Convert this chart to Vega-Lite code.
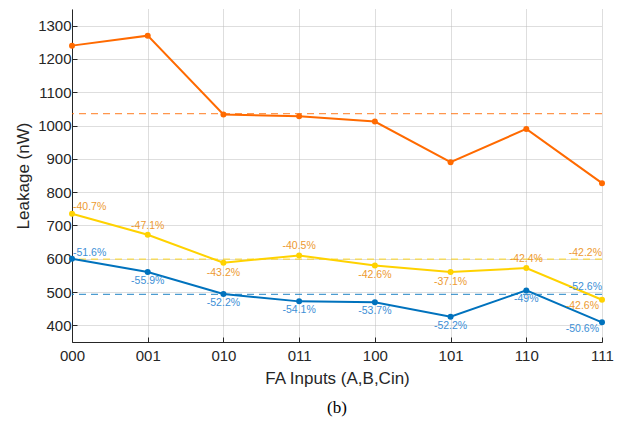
{
  "$schema": "https://vega.github.io/schema/vega-lite/v6.json",
  "width": 530,
  "height": 333,
  "autosize": {"type": "none"},
  "padding": {"left": 72, "top": 9, "right": 18, "bottom": 79},
  "background": "white",
  "config": {
    "view": {"stroke": null},
    "font": "Liberation Sans",
    "axis": {
      "domainColor": "#262626",
      "tickColor": "#262626",
      "labelColor": "#262626",
      "titleColor": "#262626",
      "labelFont": "Liberation Sans",
      "titleFont": "Liberation Sans",
      "labelFontSize": 15,
      "titleFontSize": 17,
      "titleFontWeight": "normal",
      "gridColor": "#bcbcbc",
      "gridDash": [1, 1],
      "gridWidth": 1
    }
  },
  "title": {
    "text": "(b)",
    "orient": "bottom",
    "font": "Liberation Serif",
    "fontSize": 17,
    "fontWeight": "normal",
    "color": "#000000",
    "offset": 14
  },
  "datasets": {
    "leak": [
      {"input": "000", "series": "orig", "value": 1240, "label": ""},
      {"input": "001", "series": "orig", "value": 1270, "label": ""},
      {"input": "010", "series": "orig", "value": 1033, "label": ""},
      {"input": "011", "series": "orig", "value": 1028, "label": ""},
      {"input": "100", "series": "orig", "value": 1012, "label": ""},
      {"input": "101", "series": "orig", "value": 890, "label": ""},
      {"input": "110", "series": "orig", "value": 990, "label": ""},
      {"input": "111", "series": "orig", "value": 827, "label": ""},
      {"input": "000", "series": "yellow", "value": 735, "label": "-40.7%"},
      {"input": "001", "series": "yellow", "value": 672, "label": "-47.1%"},
      {"input": "010", "series": "yellow", "value": 588, "label": "-43.2%"},
      {"input": "011", "series": "yellow", "value": 610, "label": "-40.5%"},
      {"input": "100", "series": "yellow", "value": 580, "label": "-42.6%"},
      {"input": "101", "series": "yellow", "value": 560, "label": "-37.1%"},
      {"input": "110", "series": "yellow", "value": 572, "label": "-42.4%"},
      {"input": "111", "series": "yellow", "value": 477, "label": "-42.6%"},
      {"input": "000", "series": "blue", "value": 600, "label": "-51.6%"},
      {"input": "001", "series": "blue", "value": 560, "label": "-55.9%"},
      {"input": "010", "series": "blue", "value": 494, "label": "-52.2%"},
      {"input": "011", "series": "blue", "value": 472, "label": "-54.1%"},
      {"input": "100", "series": "blue", "value": 469, "label": "-53.7%"},
      {"input": "101", "series": "blue", "value": 426, "label": "-52.2%"},
      {"input": "110", "series": "blue", "value": 505, "label": "-49%"},
      {"input": "111", "series": "blue", "value": 409, "label": "-50.6%"}
    ],
    "means": [
      {"series": "orig", "value": 1036, "label": ""},
      {"series": "yellow", "value": 599, "label": "-42.2%"},
      {"series": "blue", "value": 493, "label": "-52.6%"}
    ]
  },
  "data": {"name": "leak"},
  "encoding": {
    "x": {
      "field": "input",
      "type": "ordinal",
      "scale": {"type": "point", "padding": 0, "domain": ["000","001","010","011","100","101","110","111"]},
      "axis": {"title": "FA Inputs (A,B,Cin)", "labelAngle": 0, "tickSize": -5, "labelPadding": 11, "titlePadding": 7, "grid": true}
    },
    "y": {
      "field": "value",
      "type": "quantitative",
      "scale": {"domain": [350, 1350], "nice": false, "zero": false},
      "axis": {"title": "Leakage (nW)", "format": "d", "values": [400,500,600,700,800,900,1000,1100,1200,1300], "tickSize": -5, "labelPadding": 6, "titlePadding": 5, "grid": true}
    }
  },
  "layer": [
    {
      "data": {"name": "means"},
      "mark": {"type": "rule", "strokeDash": [7, 5], "strokeWidth": 1.2, "opacity": 0.7},
      "encoding": {
        "x": null,
        "y": {"field": "value", "type": "quantitative"},
        "color": {"field": "series", "type": "nominal", "legend": null,
          "scale": {"domain": ["orig", "yellow", "blue"], "range": ["#ff6a00", "#ffd200", "#0072bd"]}}
      }
    },
    {
      "mark": {"type": "line", "strokeWidth": 2},
      "encoding": {
        "color": {"field": "series", "type": "nominal", "legend": null},
        "detail": {"field": "series"}
      }
    },
    {
      "mark": {"type": "point", "filled": true, "opacity": 1, "size": 36},
      "encoding": {
        "color": {"field": "series", "type": "nominal", "legend": null}
      }
    },
    {
      "transform": [{"filter": "datum.series == 'yellow' && indexof(['001','011','110'], datum.input) >= 0"}],
      "mark": {"type": "text", "fontSize": 10.5, "color": "#ed9a30", "dy": -9, "baseline": "middle"},
      "encoding": {"text": {"field": "label"}}
    },
    {
      "transform": [{"filter": "datum.series == 'yellow' && indexof(['010','100','101'], datum.input) >= 0"}],
      "mark": {"type": "text", "fontSize": 10.5, "color": "#ed9a30", "dy": 10, "baseline": "middle"},
      "encoding": {"text": {"field": "label"}}
    },
    {
      "transform": [{"filter": "datum.series == 'yellow' && datum.input == '000'"}],
      "mark": {"type": "text", "fontSize": 10.5, "color": "#ed9a30", "dy": -7, "dx": 1, "align": "left", "baseline": "middle"},
      "encoding": {"text": {"field": "label"}}
    },
    {
      "transform": [{"filter": "datum.series == 'yellow' && datum.input == '111'"}],
      "mark": {"type": "text", "fontSize": 10.5, "color": "#ed9a30", "dy": 6, "dx": -3, "align": "right", "baseline": "middle"},
      "encoding": {"text": {"field": "label"}}
    },
    {
      "transform": [{"filter": "datum.series == 'blue' && datum.input == '000'"}],
      "mark": {"type": "text", "fontSize": 10.5, "color": "#3d8fd6", "dy": -6, "dx": 1, "align": "left", "baseline": "middle"},
      "encoding": {"text": {"field": "label"}}
    },
    {
      "transform": [{"filter": "datum.series == 'blue' && indexof(['001','010','011','100','101','110'], datum.input) >= 0"}],
      "mark": {"type": "text", "fontSize": 10.5, "color": "#3d8fd6", "dy": 9, "baseline": "middle"},
      "encoding": {"text": {"field": "label"}}
    },
    {
      "transform": [{"filter": "datum.series == 'blue' && datum.input == '111'"}],
      "mark": {"type": "text", "fontSize": 10.5, "color": "#3d8fd6", "dy": 7, "dx": -3, "align": "right", "baseline": "middle"},
      "encoding": {"text": {"field": "label"}}
    },
    {
      "data": {"name": "means"},
      "transform": [{"filter": "datum.series == 'yellow'"}],
      "mark": {"type": "text", "fontSize": 10.5, "color": "#ed9a30", "dy": -6, "align": "right", "baseline": "middle"},
      "encoding": {"x": {"datum": "111"}, "text": {"field": "label"}}
    },
    {
      "data": {"name": "means"},
      "transform": [{"filter": "datum.series == 'blue'"}],
      "mark": {"type": "text", "fontSize": 10.5, "color": "#3d8fd6", "dy": -7, "align": "right", "baseline": "middle"},
      "encoding": {"x": {"datum": "111"}, "text": {"field": "label"}}
    }
  ]
}
